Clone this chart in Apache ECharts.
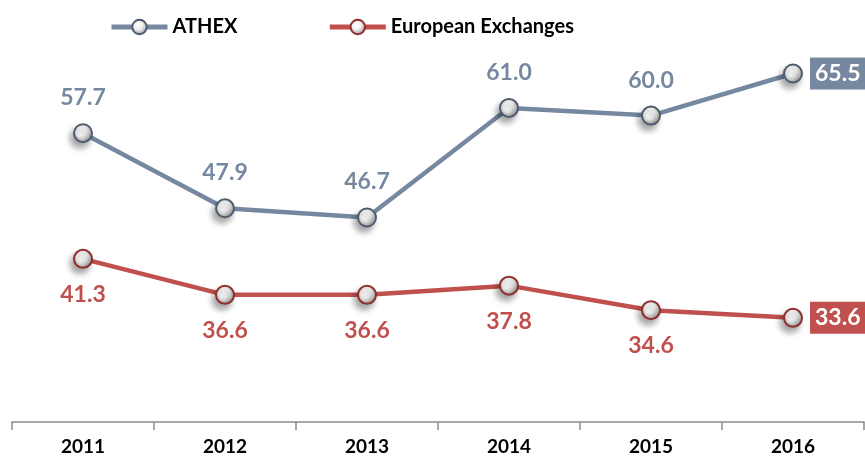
<!DOCTYPE html>
<html>
<head>
<meta charset="utf-8">
<script src="https://cdn.jsdelivr.net/npm/echarts@6/dist/echarts.min.js"></script>
<style>
  html, body { margin: 0; padding: 0; background: #fff; }
  #chart { width: 865px; height: 466px; }
</style>
</head>
<body>
<div id="chart"></div>
<script>
const years = ['2011', '2012', '2013', '2014', '2015', '2016']
const athex = [57.7, 47.9, 46.7, 61.0, 60.0, 65.5]
const european = [41.3, 36.6, 36.6, 37.8, 34.6, 33.6]

const BLUE = '#7688a0'
const RED = '#c0504d'

// shiny ball marker like the office chart style
const ball = (edge) => ({
  color: new echarts.graphic.RadialGradient(0.42, 0.38, 0.65, [
    { offset: 0, color: '#ffffff' },
    { offset: 0.4, color: '#f2f2f2' },
    { offset: 0.8, color: '#b0b0b0' },
    { offset: 1, color: '#6a6a6a' }
  ]),
  borderColor: edge,
  borderWidth: 2,
  shadowColor: 'rgba(0,0,0,0.35)',
  shadowBlur: 6,
  shadowOffsetX: -3,
  shadowOffsetY: 5
})

const makeSeries = (name, data, color, edge, pos) => ({
  name,
  type: 'line',
  data: data.map((v, i) => {
    if (i < data.length - 1) return v
    return {
      value: v,
      label: {
        position: 'right',
        distance: 7,
        color: '#fff',
        backgroundColor: color,
        padding: [5, 5, 4, 5]
      }
    }
  }),
  symbol: 'circle',
  symbolSize: 18,
  lineStyle: { color, width: 4.5 },
  itemStyle: ball(edge),
  label: {
    show: true,
    position: pos,
    distance: 14,
    color,
    fontFamily: 'Lato',
    fontWeight: 'bold',
    fontSize: 23,
    formatter: p => p.value.toFixed(1)
  },
  z: 3
})

const chart = echarts.init(document.getElementById('chart'))

chart.setOption({
  animation: false,
  legend: {
    left: 104,
    top: 12,
    itemWidth: 56,
    itemHeight: 18,
    itemGap: 90,
    lineStyle: { width: 5 },
    textStyle: { fontFamily: 'Lato', fontWeight: 'bold', fontSize: 20, color: '#000' },
    data: ['ATHEX', 'European Exchanges']
  },
  grid: { left: 12, right: 1, top: 39, bottom: 44 },
  xAxis: {
    type: 'category',
    data: years,
    boundaryGap: true,
    axisLine: { lineStyle: { color: '#8c8c8c', width: 1.5 } },
    axisTick: { show: true, length: 8, lineStyle: { color: '#8c8c8c', width: 1.5 } },
    axisLabel: { margin: 15, color: '#000', fontFamily: 'Lato', fontWeight: 'bold', fontSize: 19 }
  },
  yAxis: {
    type: 'value',
    min: 20,
    max: 70,
    show: false,
    splitLine: { show: false }
  },
  series: [
    makeSeries('ATHEX', athex, BLUE, '#4d5c6e', 'top'),
    makeSeries('European Exchanges', european, RED, '#8e2f2c', 'bottom')
  ]
})
</script>
</body>
</html>
